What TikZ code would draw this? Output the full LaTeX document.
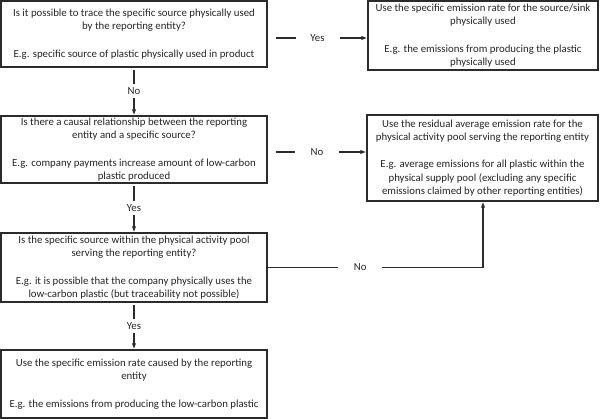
\documentclass[tikz,border=0pt]{standalone}
\usepackage{fontspec}
\setmainfont{Carlito}
\usetikzlibrary{arrows.meta,calc}
\definecolor{ink}{HTML}{262626}
\definecolor{edge}{HTML}{2B2B2B}
\tikzset{
  box/.style={draw=edge, line width=1.3pt, align=center, inner sep=0pt,
    text=ink, font=\fontsize{10.8}{13.3}\selectfont},
  conn/.style={draw=edge, line width=1.2pt, -{Latex[length=6pt,width=4.5pt]}},
  lbl/.style={fill=white, text=ink, font=\fontsize{10.8}{13}\selectfont, inner sep=0pt},
  hl/.style={lbl, minimum width=44pt, minimum height=10pt},
  vl/.style={lbl, minimum height=14pt, minimum width=14pt}
}
\begin{document}
\begin{tikzpicture}[x=1pt,y=-1pt]
\useasboundingbox[fill=white] (0,0) rectangle (600,419);
% left column
\node[box, minimum width=266pt, minimum height=66pt] (b1) at (134,34)
  {Is it possible to trace the specific source physically used\\by the reporting entity?\\[14pt]E.g. specific source of plastic physically used in product};
\node[box, minimum width=266pt, minimum height=67pt] (b2) at (134,149.5)
  {Is there a causal relationship between the reporting\\entity and a specific source?\\[14pt]E.g. company payments increase amount of low-carbon\\plastic produced};
\node[box, minimum width=266pt, minimum height=69pt] (b3) at (134,267.5)
  {Is the specific source within the physical activity pool\\serving the reporting entity?\\[14pt]E.g. it is possible that the company physically uses the\\low-carbon plastic (but traceability not possible)};
\node[box, minimum width=266pt, minimum height=68pt] (b4) at (134,384)
  {Use the specific emission rate caused by the reporting\\entity\\[14pt]E.g. the emissions from producing the low-carbon plastic};
% right column
\node[box, minimum width=230pt, minimum height=69pt] (r1) at (483,35.5)
  {Use the specific emission rate for the source/sink\\physically used\\[14pt]E.g. the emissions from producing the plastic\\physically used};
\node[box, minimum width=231pt, minimum height=86pt] (r2) at (482.5,158)
  {Use the residual average emission rate for the\\physical activity pool serving the reporting entity\\[14pt]E.g. average emissions for all plastic within the\\physical supply pool (excluding any specific\\emissions claimed by other reporting entities)};
% connectors
\draw[conn, shorten <=8pt] ([yshift=-4pt]b1.east) -- node[hl]{Yes} ([yshift=-2.5pt]r1.west);
\draw[conn, shorten <=2pt] (b1.south) -- node[vl]{No} (b2.north);
\draw[conn, shorten <=8pt] ([yshift=-2.5pt]b2.east) -- node[hl]{No} (r2.west |- 0,152);
\draw[conn, shorten <=2pt] (b2.south) -- node[vl]{Yes} (b3.north);
\draw[conn] (b3.east) -| node[pos=0.215, hl]{No} (r2.south -| 483,0);
\draw[conn, shorten <=2pt] (b3.south) -- node[vl]{Yes} (b4.north);
\end{tikzpicture}
\end{document}
